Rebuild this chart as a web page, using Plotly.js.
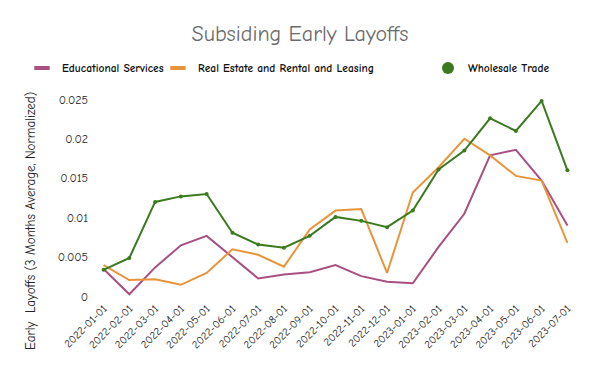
<!DOCTYPE html>
<html>
<head>
<meta charset="utf-8">
<script src="https://cdn.plot.ly/plotly-3.0.1.min.js"></script>
<style>html,body{margin:0;padding:0;background:#fff;}#chart{width:600px;height:371px;}</style>
</head>
<body>
<div id="chart"></div>
<script>
const months = ["2022-01-01","2022-02-01","2022-03-01","2022-04-01","2022-05-01","2022-06-01","2022-07-01","2022-08-01","2022-09-01","2022-10-01","2022-11-01","2022-12-01","2023-01-01","2023-02-01","2023-03-01","2023-04-01","2023-05-01","2023-06-01","2023-07-01"];
const educational = [0.0035,0.0003,0.0037,0.0065,0.0077,0.0050,0.0023,0.0028,0.0031,0.0040,0.0026,0.0019,0.0017,0.0063,0.0105,0.0179,0.0186,0.0147,0.0090];
const realEstate = [0.0040,0.0021,0.0022,0.0015,0.0030,0.0060,0.0053,0.0038,0.0085,0.0109,0.0111,0.0030,0.0132,0.0164,0.0200,0.0179,0.0153,0.0147,0.0068];
const wholesale = [0.0034,0.0049,0.0120,0.0127,0.0130,0.0081,0.0066,0.0062,0.0077,0.0101,0.0096,0.0088,0.0109,0.0161,0.0185,0.0226,0.0210,0.0248,0.0160];
const seriesNames = ["Educational Services","Real Estate and Rental and Leasing","Wholesale Trade"];
const colors = ["#a94f82","#e8953a","#3b7a1f"];
const yTitle = "Early  Layoffs (3 Months Average, Normalized)";

const FONT = "Comic Sans MS, Comic Neue, Open Sans, sans-serif";

const traces = [
  {x: months, y: educational, mode: "lines", line: {color: colors[0], width: 2}, showlegend: false, name: seriesNames[0]},
  {x: months, y: realEstate, mode: "lines", line: {color: colors[1], width: 2}, showlegend: false, name: seriesNames[1]},
  {x: months, y: wholesale, mode: "lines+markers", line: {color: colors[2], width: 2}, marker: {color: colors[2], size: 4}, showlegend: false, name: seriesNames[2]},
  // legend-only entries
  {x: [null], y: [null], mode: "markers", name: "<b>" + seriesNames[0] + "</b>", legend: "legend", marker: {symbol: "line-ew-open", size: 11, line: {color: colors[0], width: 4}, color: colors[0]}},
  {x: [null], y: [null], mode: "markers", name: "<b>" + seriesNames[1] + "</b>", legend: "legend2", marker: {symbol: "line-ew-open", size: 11, line: {color: colors[1], width: 4}, color: colors[1]}},
  {x: [null], y: [null], mode: "markers", name: "<b>" + seriesNames[2] + "</b>", legend: "legend3", marker: {symbol: "circle", size: 12, color: colors[2]}}
];

function leg(x) {
  return {orientation: "h", xref: "container", yref: "container", x: x, xanchor: "left", y: 0.817, yanchor: "middle",
    font: {family: FONT, size: 11.5, color: "#111"}, itemwidth: 30, bgcolor: "rgba(0,0,0,0)"};
}

const layout = {
  width: 600, height: 371,
  margin: {l: 101, r: 30, t: 93, b: 72},
  paper_bgcolor: "#fff", plot_bgcolor: "#fff",
  font: {family: FONT, size: 12, color: "#222"},
  title: {text: "Subsiding Early Layoffs", x: 0.5, xanchor: "center", y: 0.91, yanchor: "middle", font: {family: FONT, size: 22, color: "#6b6b6b"}},
  showlegend: true,
  legend: leg(22 / 600),
  legend2: leg(158 / 600),
  legend3: leg(428 / 600),
  xaxis: {type: "category", categoryorder: "array", categoryarray: months, range: [-0.1, 18.1], showgrid: false, zeroline: false, showline: false, tickangle: -45, tickfont: {family: FONT, size: 11, color: "#222"}, ticks: ""},
  yaxis: {range: [-0.0003, 0.0258], tickvals: [0, 0.005, 0.01, 0.015, 0.02, 0.025], ticktext: ["0","0.005","0.01","0.015","0.02","0.025"], showgrid: false, zeroline: false, showline: false, ticks: "", ticklabelstandoff: 12, tickfont: {family: FONT, size: 12, color: "#222"}},
  annotations: [{text: yTitle, textangle: -90, xref: "paper", yref: "paper", x: (30 - 101) / 469, y: (299 - 221) / 206, xanchor: "center", yanchor: "middle", showarrow: false, font: {family: FONT, size: 13, color: "#222"}}]
};

Plotly.newPlot("chart", traces, layout, {displayModeBar: false, staticPlot: true});
</script>
</body>
</html>
